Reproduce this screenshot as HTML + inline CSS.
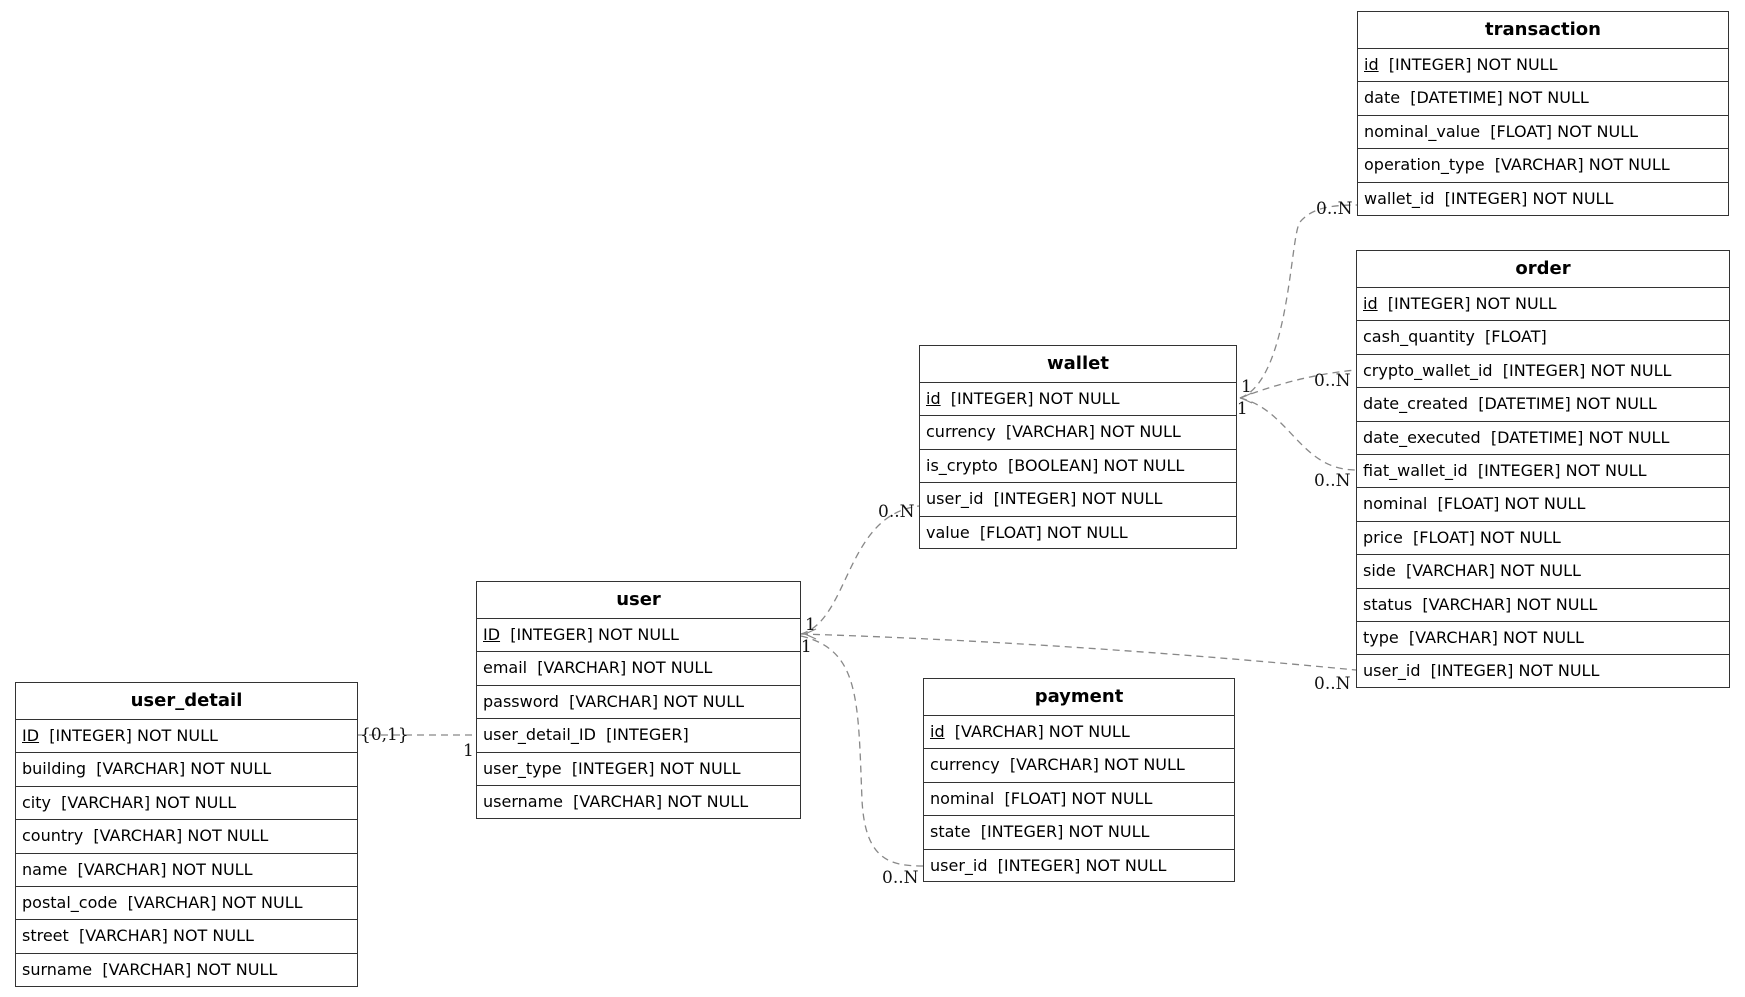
<!DOCTYPE html>
<html><head><meta charset="utf-8"><style>
body{margin:0;width:1745px;height:997px;background:#fff;position:relative;overflow:hidden;font-family:"DejaVu Sans","Liberation Sans",sans-serif;}
.t{position:absolute;border:1.5px solid #333;box-sizing:border-box;background:#fff;}
.h{height:37px;line-height:36px;text-align:center;font-weight:bold;font-size:18px;border-bottom:1.5px solid #333;box-sizing:border-box;}
.r{height:33.4px;line-height:31px;font-size:16px;padding-left:6px;border-bottom:1.5px solid #333;box-sizing:border-box;white-space:pre;}
.r:last-child{border-bottom:none;}
u{text-decoration:underline;}
svg{position:absolute;left:0;top:0;}
svg text{font-family:"DejaVu Serif","Liberation Serif",serif;font-size:17px;fill:#111;}
</style></head><body>
<svg width="1745" height="997">
<g fill="none" stroke="#888" stroke-width="1.3" stroke-dasharray="7,5">
<path d="M357,735 L476,735"/>
<path d="M801,634 C850,620 845,515 919,506"/>
<path d="M801,636 C860,650 858,700 862,800 C865,860 890,866 923,866"/>
<path d="M801,634 C1000,640 1200,655 1356,670"/>
<path d="M1240,398 C1290,380 1290,235 1300,222 C1312,208 1330,205 1357,205"/>
<path d="M1240,398 Q1300,375 1356,370"/>
<path d="M1240,398 C1290,410 1300,470 1356,470"/>
</g>
<g fill="none" stroke="#888" stroke-width="1.2">
<path d="M816,629 L805,634 L816,639"/>
<path d="M1252,393 L1241,398 L1252,403"/>
</g>
<text x="360" y="740">{0,1}</text>
<text x="463" y="756">1</text>
<text x="805" y="630">1</text>
<text x="790" y="652">11</text>
<text x="878" y="517">0..N</text>
<text x="882" y="883">0..N</text>
<text x="1314" y="689">0..N</text>
<text x="1314" y="386">0..N</text>
<text x="1314" y="486">0..N</text>
<text x="1316" y="214">0..N</text>
<text x="1241" y="392">1</text>
<text x="1226" y="414">11</text>
</svg>

<div class="t" style="left:1357px;top:11px;width:372px;height:205px">
<div class="h">transaction</div>
<div class="r"><u>id</u>  [INTEGER] NOT NULL</div>
<div class="r">date  [DATETIME] NOT NULL</div>
<div class="r">nominal_value  [FLOAT] NOT NULL</div>
<div class="r">operation_type  [VARCHAR] NOT NULL</div>
<div class="r">wallet_id  [INTEGER] NOT NULL</div>
</div>

<div class="t" style="left:1356px;top:250px;width:374px;height:438px">
<div class="h">order</div>
<div class="r"><u>id</u>  [INTEGER] NOT NULL</div>
<div class="r">cash_quantity  [FLOAT]</div>
<div class="r">crypto_wallet_id  [INTEGER] NOT NULL</div>
<div class="r">date_created  [DATETIME] NOT NULL</div>
<div class="r">date_executed  [DATETIME] NOT NULL</div>
<div class="r">fiat_wallet_id  [INTEGER] NOT NULL</div>
<div class="r">nominal  [FLOAT] NOT NULL</div>
<div class="r">price  [FLOAT] NOT NULL</div>
<div class="r">side  [VARCHAR] NOT NULL</div>
<div class="r">status  [VARCHAR] NOT NULL</div>
<div class="r">type  [VARCHAR] NOT NULL</div>
<div class="r">user_id  [INTEGER] NOT NULL</div>
</div>

<div class="t" style="left:919px;top:345px;width:318px;height:204px">
<div class="h">wallet</div>
<div class="r"><u>id</u>  [INTEGER] NOT NULL</div>
<div class="r">currency  [VARCHAR] NOT NULL</div>
<div class="r">is_crypto  [BOOLEAN] NOT NULL</div>
<div class="r">user_id  [INTEGER] NOT NULL</div>
<div class="r">value  [FLOAT] NOT NULL</div>
</div>

<div class="t" style="left:923px;top:678px;width:312px;height:204px">
<div class="h">payment</div>
<div class="r"><u>id</u>  [VARCHAR] NOT NULL</div>
<div class="r">currency  [VARCHAR] NOT NULL</div>
<div class="r">nominal  [FLOAT] NOT NULL</div>
<div class="r">state  [INTEGER] NOT NULL</div>
<div class="r">user_id  [INTEGER] NOT NULL</div>
</div>

<div class="t" style="left:476px;top:581px;width:325px;height:238px">
<div class="h">user</div>
<div class="r"><u>ID</u>  [INTEGER] NOT NULL</div>
<div class="r">email  [VARCHAR] NOT NULL</div>
<div class="r">password  [VARCHAR] NOT NULL</div>
<div class="r">user_detail_ID  [INTEGER]</div>
<div class="r">user_type  [INTEGER] NOT NULL</div>
<div class="r">username  [VARCHAR] NOT NULL</div>
</div>

<div class="t" style="left:15px;top:682px;width:343px;height:305px">
<div class="h">user_detail</div>
<div class="r"><u>ID</u>  [INTEGER] NOT NULL</div>
<div class="r">building  [VARCHAR] NOT NULL</div>
<div class="r">city  [VARCHAR] NOT NULL</div>
<div class="r">country  [VARCHAR] NOT NULL</div>
<div class="r">name  [VARCHAR] NOT NULL</div>
<div class="r">postal_code  [VARCHAR] NOT NULL</div>
<div class="r">street  [VARCHAR] NOT NULL</div>
<div class="r">surname  [VARCHAR] NOT NULL</div>
</div>
</body></html>
